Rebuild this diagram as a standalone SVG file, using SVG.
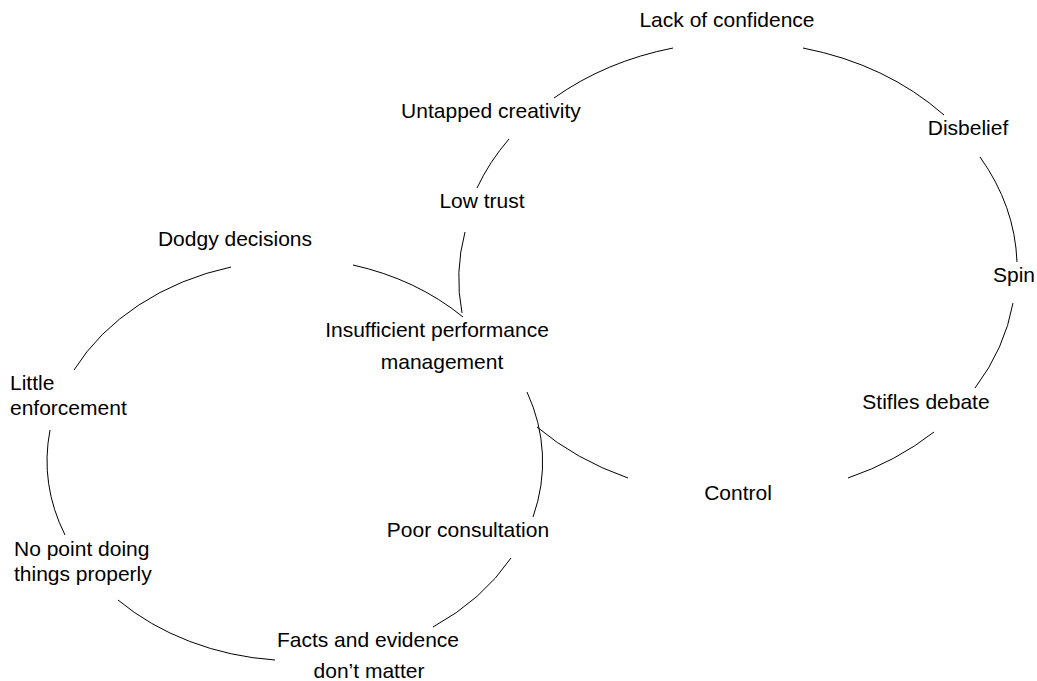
<svg xmlns="http://www.w3.org/2000/svg" width="1037" height="681" viewBox="0 0 1037 681">
<style>
.lbl{font-family:"Liberation Sans",Arial,sans-serif;font-size:21px;fill:#000;text-anchor:middle}
.ls{text-anchor:start}
.arc{fill:none;stroke:#000;stroke-width:1}
</style>
<rect width="1037" height="681" fill="#fff"/>
<g id="connectors">
<path class="arc" d="M462,313 A281,225 0 0 1 465,232"/>
<path class="arc" d="M477,188 A281,225 0 0 1 509,139"/>
<path class="arc" d="M554,98 A281,225 0 0 1 673,48"/>
<path class="arc" d="M803,48 A281,225 0 0 1 944,115"/>
<path class="arc" d="M980,157 A281,225 0 0 1 1017,262"/>
<path class="arc" d="M1013,303 A281,225 0 0 1 975,388"/>
<path class="arc" d="M934,432 A281,225 0 0 1 848,478"/>
<path class="arc" d="M628,478 A281,225 0 0 1 537,427"/>
<path class="arc" d="M74,370 A248,200 0 0 1 231,267"/>
<path class="arc" d="M353,265 A248,200 0 0 1 463,317"/>
<path class="arc" d="M527,392 A248,200 0 0 1 533,517"/>
<path class="arc" d="M511,558 A248,200 0 0 1 433,627"/>
<path class="arc" d="M275,660 A248,200 0 0 1 118,600"/>
<path class="arc" d="M65,535 A248,200 0 0 1 50,430"/>
</g>
<g id="lack-of-confidence"><text class="lbl" x="727" y="27">Lack of confidence</text></g>
<g id="untapped-creativity"><text class="lbl" x="491" y="118">Untapped creativity</text></g>
<g id="low-trust"><text class="lbl" x="482" y="208">Low trust</text></g>
<g id="disbelief"><text class="lbl" x="968" y="135">Disbelief</text></g>
<g id="spin"><text class="lbl" x="1014" y="282">Spin</text></g>
<g id="stifles-debate"><text class="lbl" x="926" y="409">Stifles debate</text></g>
<g id="control"><text class="lbl" x="738" y="500">Control</text></g>
<g id="dodgy-decisions"><text class="lbl" x="235" y="246">Dodgy decisions</text></g>
<g id="insufficient-performance-management"><text class="lbl" x="437" y="337">Insufficient performance</text><text class="lbl" x="442" y="369">management</text></g>
<g id="little-enforcement"><text class="lbl ls" x="10" y="390">Little</text><text class="lbl ls" x="10" y="415">enforcement</text></g>
<g id="poor-consultation"><text class="lbl" x="468" y="537">Poor consultation</text></g>
<g id="no-point-doing-things-properly"><text class="lbl ls" x="14" y="556">No point doing</text><text class="lbl ls" x="14" y="581">things properly</text></g>
<g id="facts-and-evidence"><text class="lbl" x="368" y="647">Facts and evidence</text><text class="lbl" x="369" y="678">don’t matter</text></g>
</svg>
